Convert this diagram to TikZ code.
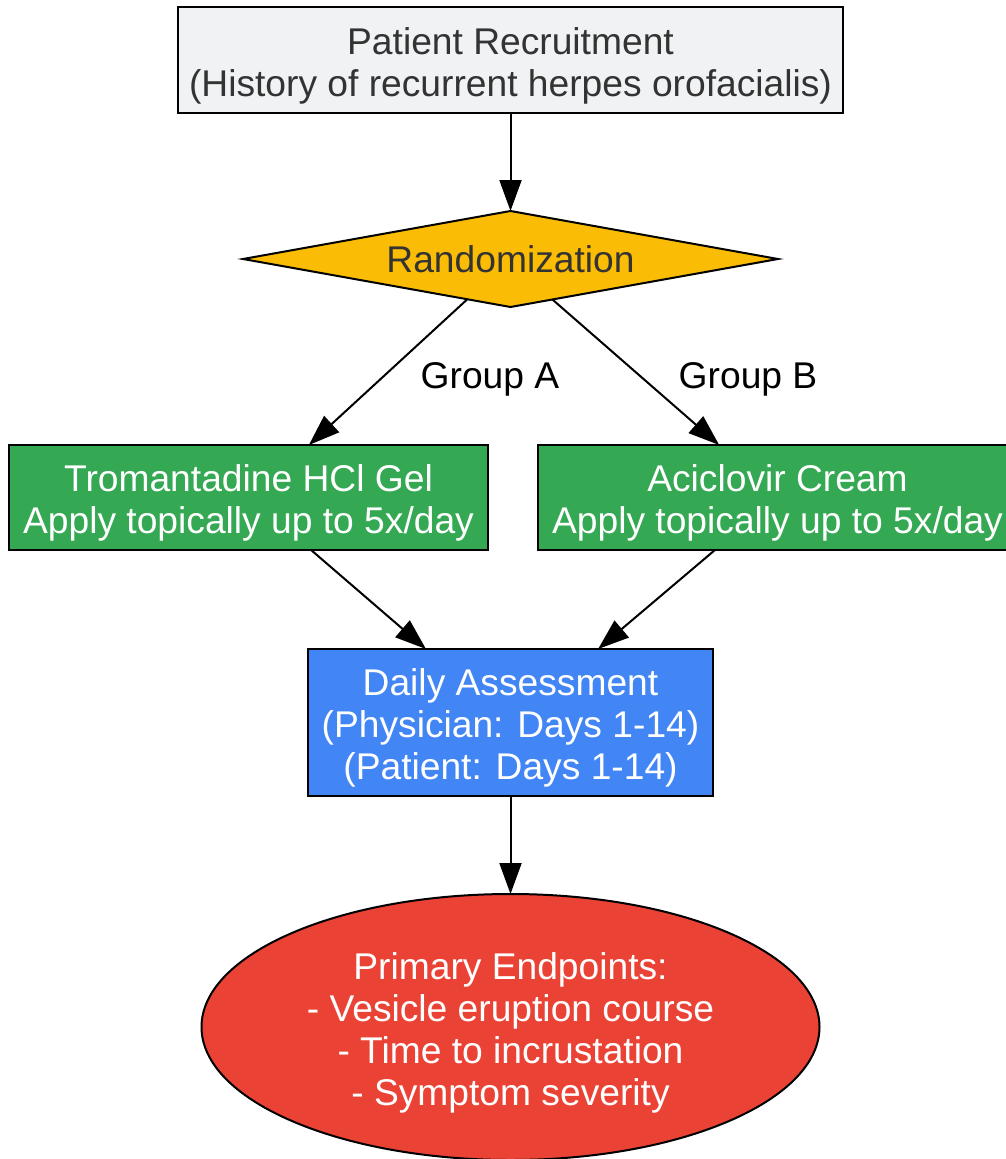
\documentclass[tikz,border=0pt]{standalone}
\usepackage{fontspec}
\setmainfont{Liberation Sans}
\usetikzlibrary{shapes.geometric,arrows.meta}
\definecolor{cgray}{HTML}{F1F2F4}
\definecolor{cyellow}{HTML}{FBBC05}
\definecolor{cgreen}{HTML}{34A853}
\definecolor{cblue}{HTML}{4285F4}
\definecolor{cred}{HTML}{EA4335}
\definecolor{ctext}{HTML}{333333}
\newcommand{\firststrut}{\rule{0pt}{38pt}}
\tikzset{
  base/.style={draw=black, line width=2pt, inner sep=0pt, outer sep=0pt, align=center,
    font=\fontsize{37.2}{42}\selectfont},
  boxnode/.style={base, rectangle},
  conn/.style={line width=2pt, -{Triangle[length=31pt,width=22pt]}},
  lbl/.style={font=\fontsize{37.2}{42}\selectfont, text=black}
}
\begin{document}
\begin{tikzpicture}[x=1pt,y=-1pt]
\useasboundingbox (0,0) rectangle (1006,1159);
\node[boxnode, fill=cgray, text=ctext, minimum width=665, minimum height=106] (rec) at (510.5,60)
  {\firststrut Patient Recruitment\\(History of recurrent herpes orofacialis)};
\node[base, shape=diamond, aspect=5.57, fill=cyellow, text=ctext, minimum width=535, minimum height=96] (rand) at (510.5,259)
  {Randomization};
\node[boxnode, fill=cgreen, text=white, minimum width=479, minimum height=105] (ga) at (248.5,497.5)
  {\firststrut Tromantadine HCl Gel\\Apply topically up to 5x/day};
\node[boxnode, fill=cgreen, text=white, minimum width=479, minimum height=105] (gb) at (777.5,497.5)
  {\firststrut Aciclovir Cream\\Apply topically up to 5x/day};
\node[boxnode, fill=cblue, text=white, minimum width=405, minimum height=147] (da) at (510.5,722.5)
  {\firststrut Daily Assessment\\(Physician: Days 1-14)\\(Patient: Days 1-14)};
\node[base, shape=ellipse, fill=cred, text=white, minimum width=618, minimum height=266] (ep) at (510.5,1027)
  {\firststrut Primary Endpoints:\\- Vesicle eruption course\\- Time to incrustation\\- Symptom severity};
\node[lbl] (la) at (490,379) {Group A};
\node[lbl] (lb) at (748,379) {Group B};
\draw[conn] (rec) -- (rand);
\draw[conn] (rand.223.3) -- (ga.41.9);
\draw[conn] (rand.316.7) -- (gb.138.6);
\draw[conn] (ga.-40.5) -- (da.139.3);
\draw[conn] (gb.220.5) -- (da.40.7);
\draw[conn] (da) -- (ep);
\end{tikzpicture}
\end{document}
